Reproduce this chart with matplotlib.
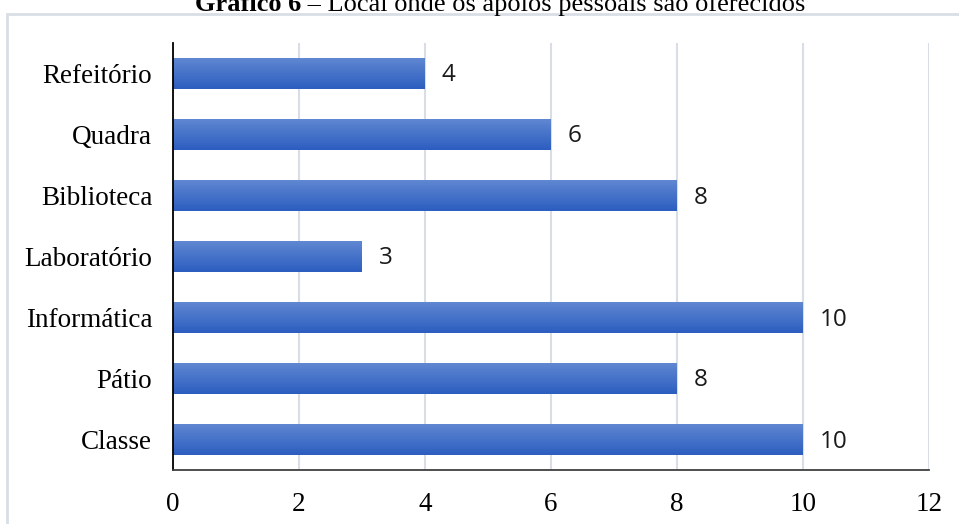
import numpy as np
import matplotlib
matplotlib.use("Agg")
import matplotlib.pyplot as plt
from matplotlib.patches import Rectangle
from matplotlib.colors import LinearSegmentedColormap

# Data: where personal support is offered
categories = ["Classe", "Pátio", "Informática", "Laboratório", "Biblioteca", "Quadra", "Refeitório"]
values = [10, 8, 10, 3, 8, 6, 4]
xticks = [0, 2, 4, 6, 8, 10, 12]

W, H, DPI = 959, 524, 100
fig = plt.figure(figsize=(W / DPI, H / DPI), dpi=DPI)

# Outer chart frame
fig.patches.append(Rectangle((7 / W, -0.05), 1.2, 1 - 14 / H + 0.05, transform=fig.transFigure,
                             fill=False, edgecolor="#D9DEE6", linewidth=2.0, zorder=0))

# Title (two styles: bold label + regular description), centred on the figure
title_y = 1 - 11 / H
t1 = fig.text(0.0, title_y, "Gráfico 6", fontfamily="Liberation Serif", fontweight="bold",
              fontsize=19, va="baseline", ha="left")
t2 = fig.text(0.0, title_y, " – Local onde os apoios pessoais são oferecidos",
              fontfamily="Liberation Serif", fontsize=19, va="baseline", ha="left")
fig.canvas.draw()
r = fig.canvas.get_renderer()
w1 = t1.get_window_extent(r).width
w2 = t2.get_window_extent(r).width
x0 = (500 - (w1 + w2) / 2) / W
t1.set_x(x0)
t2.set_x(x0 + w1 / W)

ax_left, ax_right = 173 / W, 929 / W
ax_top, ax_bottom = 1 - 43 / H, 1 - 470 / H
ax = fig.add_axes([ax_left, ax_bottom, ax_right - ax_left, ax_top - ax_bottom])

y = np.arange(len(categories))
bar_h = 0.52
bars = ax.barh(y, values, height=bar_h, color="#3F6FC9", edgecolor="none", zorder=2)

# Vertical gradient fill for each bar: lighter at the top, deeper blue below
grad = np.linspace(0, 1, 64).reshape(-1, 1)
cmap = LinearSegmentedColormap.from_list("bar", ["#6188D2", "#2C5EC0"])
for b in bars:
    x, yb = b.get_x(), b.get_y()
    w, h = b.get_width(), b.get_height()
    im = ax.imshow(grad, cmap=cmap, aspect="auto", extent=(x, x + w, yb, yb + h),
                   origin="upper", zorder=2.1, interpolation="bilinear")
    im.set_clip_path(b)

for yi, v in zip(y, values):
    ax.annotate(str(v), (v, yi), xytext=(17, -2), textcoords="offset pixels",
                va="center", ha="left", fontsize=17.5, fontfamily="Open Sans", color="#1a1a1a")

ax.set_xlim(0, 12)
ax.set_ylim(-0.5, len(categories) - 0.5)
ax.set_xticks(xticks)
ax.set_xticklabels([str(t) for t in xticks])
ax.set_yticks(y)
ax.set_yticklabels(categories)
for lab in ax.get_xticklabels() + ax.get_yticklabels():
    lab.set_fontfamily("Liberation Serif")
    lab.set_fontsize(19.5)
ax.tick_params(axis="both", length=0)
ax.tick_params(axis="y", pad=15)
ax.tick_params(axis="x", pad=16)

ax.grid(axis="x", color="#D9DEE6", linewidth=1.5, zorder=0)
ax.set_axisbelow(True)
for s in ["top", "right"]:
    ax.spines[s].set_visible(False)
ax.spines["left"].set_color("black")
ax.spines["left"].set_linewidth(1.3)
ax.spines["bottom"].set_color("#404040")
ax.spines["bottom"].set_linewidth(1.3)

fig.savefig("out.png", dpi=DPI)
